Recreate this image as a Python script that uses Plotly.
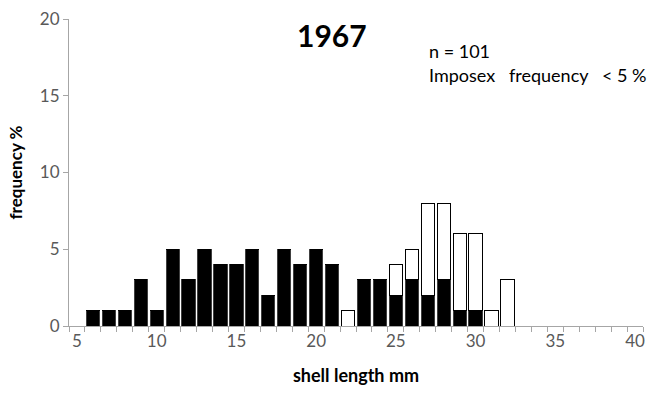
import plotly.graph_objects as go

lengths = list(range(5, 41))
black_vals = [0, 1, 1, 1, 3, 1, 5, 3, 5, 4, 4, 5, 2, 5, 4, 5, 4, 0, 3, 3, 2, 3, 2, 3, 1, 1, 0, 0,
              0, 0, 0, 0, 0, 0, 0, 0]
white_vals = [0, 0, 0, 0, 0, 0, 0, 0, 0, 0, 0, 0, 0, 0, 0, 0, 0, 1, 0, 0, 2, 2, 6, 5, 5, 5, 1, 3,
              0, 0, 0, 0, 0, 0, 0, 0]
x_ticks = [5, 10, 15, 20, 25, 30, 35, 40]
y_ticks = [0, 5, 10, 15, 20]

FONT = "Lato"
GRAY = "#595959"

pl, pr, pt, pb = 69, 653 - 8, 15, 394 - 68
def px(xp): return (xp - pl) / (pr - pl)
def py(yp): return (pb - yp) / (pb - pt)

fig = go.Figure()
fig.add_trace(go.Bar(x=lengths, y=black_vals, marker=dict(color="black", line=dict(color="#404040", width=1)),
                     width=0.83, showlegend=False))
fig.add_trace(go.Bar(x=lengths, y=white_vals, marker=dict(color="white", line=dict(color="black", width=1)),
                     width=0.83, showlegend=False))

fig.update_layout(
    barmode="stack",
    width=653, height=394,
    margin=dict(l=69, r=8, t=15, b=68),
    paper_bgcolor="white", plot_bgcolor="white",
    font=dict(family=FONT, size=16, color=GRAY),
    xaxis=dict(range=[4.5, 40.5], tickmode="array", tickvals=x_ticks, ticks="", showgrid=False,
               showline=True, linecolor="#a6a6a6", linewidth=1, zeroline=False,
               tickfont=dict(size=17, color=GRAY),
               minor=dict(tickmode="linear", tick0=4.5, dtick=1, ticks="outside", ticklen=5,
                          tickcolor="#a6a6a6", showgrid=False),
               title=dict(text="<b>shell length mm</b>", font=dict(size=18, color="black"), standoff=18)),
    yaxis=dict(range=[0, 20], tickvals=y_ticks, ticks="outside", ticklen=5, tickcolor="#a6a6a6",
               showgrid=False, showline=True, linecolor="#a6a6a6", linewidth=1, zeroline=False,
               tickfont=dict(size=17, color=GRAY),
               title=dict(text="<b>frequency %</b>", font=dict(size=17, color="black"), standoff=12)),
    annotations=[
        dict(text="<b>1967</b>", x=px(333), y=py(31), xref="paper", yref="paper", showarrow=False,
             xanchor="center", yanchor="middle", font=dict(size=30, color="black", family=FONT)),
        dict(text="n = 101", x=px(428), y=py(47), xref="paper", yref="paper", showarrow=False,
             xanchor="left", yanchor="middle", font=dict(size=18, color="black", family=FONT)),
        dict(text="Imposex&nbsp;&nbsp; frequency&nbsp;&nbsp; &lt; 5 %", x=px(428), y=py(72),
             xref="paper", yref="paper", showarrow=False, xanchor="left", yanchor="middle",
             font=dict(size=18, color="black", family=FONT)),
    ],
)

fig.write_html("out.html")
